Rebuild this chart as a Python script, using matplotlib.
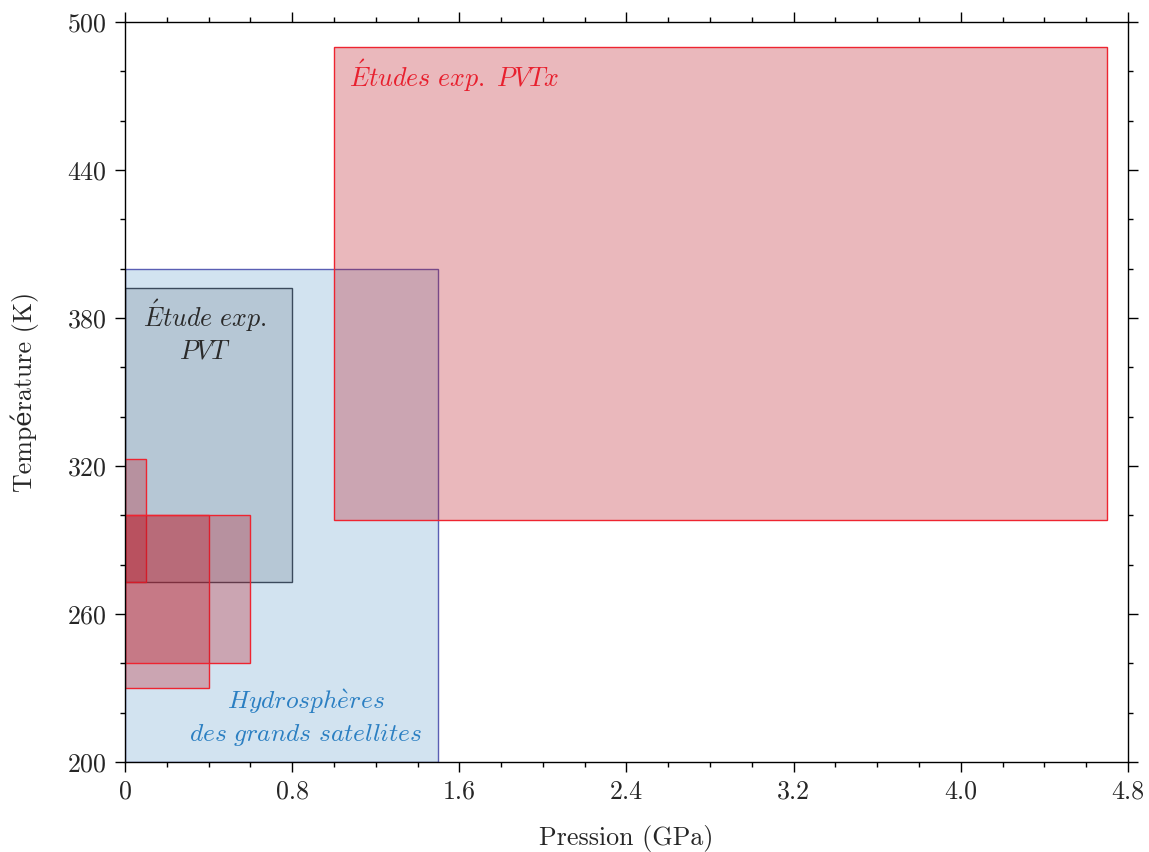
import matplotlib

matplotlib.use("Agg")
import matplotlib.pyplot as plt
from matplotlib.patches import Rectangle
from matplotlib.ticker import FixedLocator, MultipleLocator

plt.rcParams["font.family"] = ["cmr10", "DejaVu Serif"]
plt.rcParams["mathtext.fontset"] = "cm"
plt.rcParams["axes.formatter.use_mathtext"] = True
plt.rcParams["axes.unicode_minus"] = False

# ranges: (p_min, p_max) in GPa, (T_min, T_max) in K
hydro_p = (0.0, 1.5)
hydro_t = (200, 400)
pvt_p = (0.0, 0.8)
pvt_t = (273, 392)
pvtx_p = [(1.0, 4.7), (0.0, 0.1), (0.0, 0.4), (0.0, 0.6)]
pvtx_t = [(298, 490), (273, 323), (230, 300), (240, 300)]

x_ticks = [0, 0.8, 1.6, 2.4, 3.2, 4.0, 4.8]
x_tick_labels = ["0", "0.8", "1.6", "2.4", "3.2", "4.0", "4.8"]
y_ticks = [200, 260, 320, 380, 440, 500]

TEXT = "#262626"
FS = 18.7


def add_box(ax, p, t, face, alpha, edge, lw=1.0):
    ax.add_patch(Rectangle((p[0], t[0]), p[1] - p[0], t[1] - t[0],
                           facecolor=face, alpha=alpha, edgecolor="none"))
    ax.add_patch(Rectangle((p[0], t[0]), p[1] - p[0], t[1] - t[0],
                           facecolor="none", edgecolor=edge, lw=lw))


fig = plt.figure(figsize=(11.49, 8.52), dpi=100)
ax = fig.add_axes([0.1088, 0.1056, 0.8729, 0.8686])

add_box(ax, hydro_p, hydro_t, "#1f77b4", 0.2, "#5a5fb4")
add_box(ax, pvt_p, pvt_t, "#708090", 0.28, "#3b4a5c")
for p, t in zip(pvtx_p, pvtx_t):
    add_box(ax, p, t, "#bc1623", 0.3, "#ee2430")

ax.text(0.383, 375, "$\\mathit{\\acute{E}tude\\ exp.}$\n$\\mathit{PVT}$",
        ha="center", va="center", fontsize=FS, color="#2a2a2a", linespacing=1.3)
ax.text(1.07, 478, "$\\mathit{\\acute{E}tudes\\ exp.\\ PVTx}$",
        ha="left", va="center", fontsize=FS, color="#e8202e")
ax.text(0.866, 218, "$\\mathit{Hydrosph\\grave{e}res}$\n$\\mathit{des\\ grands\\ satellites}$",
        ha="center", va="center", fontsize=FS * 0.98, color="#2b7fc2", linespacing=1.3)

ax.set_xlim(0, 4.8)
ax.set_ylim(200, 500)
ax.xaxis.set_major_locator(FixedLocator(x_ticks))
ax.set_xticklabels(x_tick_labels)
ax.xaxis.set_minor_locator(MultipleLocator(0.2))
ax.yaxis.set_major_locator(FixedLocator(y_ticks))
ax.yaxis.set_minor_locator(MultipleLocator(20))

ax.tick_params(which="both", direction="out", top=True, right=True,
               labeltop=False, labelright=False, colors="black",
               labelcolor=TEXT, labelsize=FS, width=1.0)
ax.tick_params(which="major", length=7, pad=6)
ax.tick_params(which="minor", length=3.5)
for s in ax.spines.values():
    s.set_linewidth(1.0)

ax.set_xlabel("Pression (GPa)", fontsize=FS, color=TEXT, labelpad=15)
ax.set_ylabel("Température (K)", fontsize=FS, color=TEXT, labelpad=20)

fig.savefig("out.png", dpi=100)
